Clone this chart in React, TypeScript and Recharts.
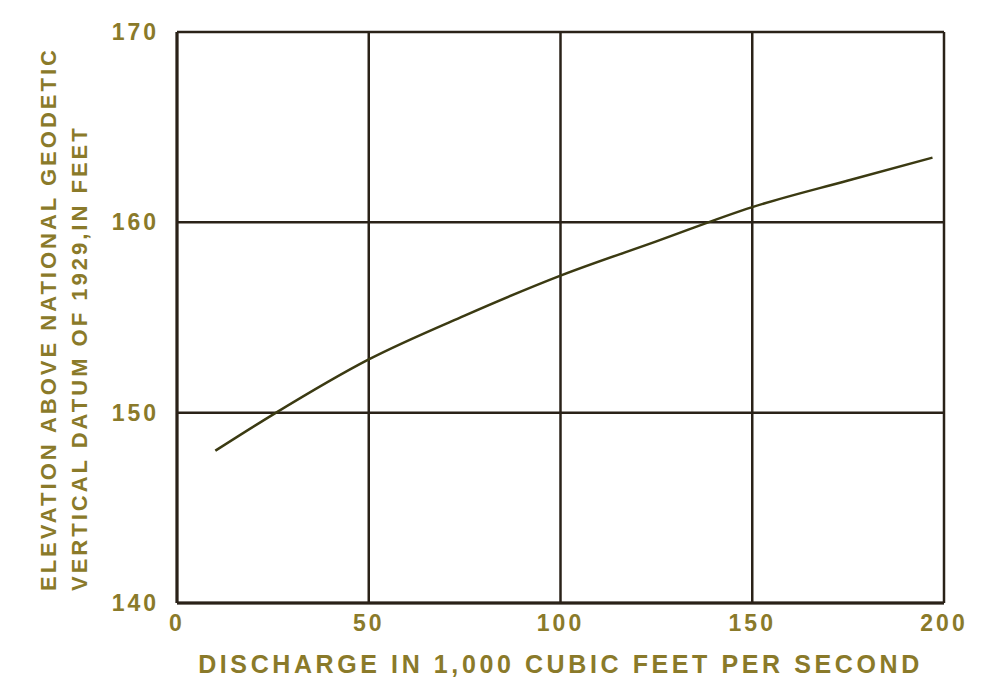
import React from 'react';
import { LineChart, Line, XAxis, YAxis, CartesianGrid, Label } from 'recharts';

// discharge (1,000 cfs) vs. elevation (ft, NGVD 1929)
const discharge = [10, 25, 50, 75, 100, 125, 150, 175, 197];
const elevation = [148.0, 149.9, 152.8, 155.1, 157.2, 159.0, 160.8, 162.2, 163.4];
const xTicks = [0, 50, 100, 150, 200];
const yTicks = [140, 150, 160, 170];

const xTitle = 'DISCHARGE IN 1,000 CUBIC FEET PER SECOND';
const yTitle = ['ELEVATION ABOVE NATIONAL GEODETIC', 'VERTICAL DATUM OF 1929,IN FEET'];

const data = discharge.map((q, i) => ({ q, elev: elevation[i] }));

const TEXT = '#8a7a2a';
const GRID = '#2a2218';
const FONT = '"Liberation Sans", Arial, sans-serif';

const YTitle = (props: any) => {
  const { viewBox } = props;
  const bottom = viewBox.y + viewBox.height - 12;
  return (
    <g fill={TEXT} fontFamily={FONT} fontSize={22} fontWeight={600} letterSpacing={3}>
      <text x={56} y={bottom} transform={`rotate(-90 56 ${bottom})`} textAnchor="start">
        {yTitle[0]}
      </text>
      <text x={87} y={bottom} transform={`rotate(-90 87 ${bottom})`} textAnchor="start">
        {yTitle[1]}
      </text>
    </g>
  );
};

const App: React.FC = () => {
  return (
    <div style={{ position: 'absolute', left: 0, top: 0, background: '#fff' }}>
      <LineChart
        width={997}
        height={683}
        data={data}
        margin={{ top: 32, right: 53, bottom: 0, left: 97 }}
      >
        <CartesianGrid stroke={GRID} strokeWidth={2.5} />
        <XAxis
          dataKey="q"
          type="number"
          domain={[0, 200]}
          ticks={xTicks}
          axisLine={{ stroke: GRID, strokeWidth: 3 }}
          tickLine={false}
          tick={{ fill: TEXT, fontSize: 23, fontFamily: FONT, fontWeight: 600, letterSpacing: 3 }}
          tickMargin={6}
          height={80}
        >
          <Label
            value={xTitle}
            position="insideBottom"
            offset={10}
            style={{ fill: TEXT, fontSize: 25, fontFamily: FONT, fontWeight: 600, letterSpacing: 3.6 }}
          />
        </XAxis>
        <YAxis
          type="number"
          domain={[140, 170]}
          ticks={yTicks}
          axisLine={{ stroke: GRID, strokeWidth: 3 }}
          tickLine={false}
          tick={{ fill: TEXT, fontSize: 23, fontFamily: FONT, fontWeight: 600, letterSpacing: 3 }}
          tickMargin={12}
          width={80}
        >
          <Label content={<YTitle />} />
        </YAxis>
        <Line
          type="monotone"
          dataKey="elev"
          stroke="#3b3a12"
          strokeWidth={2.5}
          dot={false}
          isAnimationActive={false}
        />
      </LineChart>
    </div>
  );
};

export default App;
